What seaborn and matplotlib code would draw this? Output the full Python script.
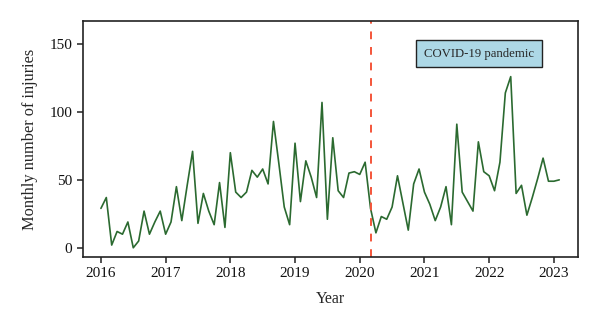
import numpy as np
import pandas as pd
import matplotlib
matplotlib.use("Agg")
import matplotlib.pyplot as plt
import seaborn as sns

# Monthly injury counts, January 2016 onwards
start_year = 2016
injuries = [
    29, 37, 2, 12, 10, 19, 0, 5, 27, 10, 19, 27,        # 2016
    10, 19, 45, 20, 46, 71, 18, 40, 27, 17, 48, 15,     # 2017
    70, 41, 37, 41, 57, 52, 58, 47, 93, 62, 30, 17,     # 2018
    77, 34, 64, 52, 37, 107, 21, 81, 42, 37, 55, 56,    # 2019
    54, 63, 29, 11, 23, 21, 30, 53, 33, 13, 47, 58,     # 2020
    41, 32, 20, 30, 45, 17, 91, 41, 34, 27, 78, 56,     # 2021
    53, 42, 63, 114, 126, 40, 46, 24, 37, 51, 66, 49,   # 2022
    49, 50,                                             # 2023
]
pandemic_start = 2020 + 2 / 12   # March 2020
pandemic_label = "COVID-19 pandemic"
x_ticks = [2016, 2017, 2018, 2019, 2020, 2021, 2022, 2023]
y_ticks = [0, 50, 100, 150]

df = pd.DataFrame({
    "year": start_year + np.arange(len(injuries)) / 12,
    "injuries": injuries,
})

sns.set_style("ticks")
plt.rcParams["font.family"] = ["Liberation Serif", "DejaVu Serif"]

fig = plt.figure(figsize=(6.0, 3.27), dpi=100)
ax = fig.add_axes([0.138, 0.214, 0.825, 0.722])

sns.lineplot(data=df, x="year", y="injuries", ax=ax,
             color="#2b6a30", linewidth=1.2)

ax.axvline(pandemic_start, color="#f4553a", linewidth=1.4,
           linestyle=(0, (4, 4)))

ax.text(0.80, 0.862, pandemic_label, transform=ax.transAxes,
        ha="center", va="center", fontsize=9.2,
        bbox=dict(boxstyle="square,pad=0.62", facecolor="#add8e6",
                  edgecolor="#222222", linewidth=1.0))

ax.set_xlim(2015.72, 2023.37)
ax.set_ylim(-6.8, 167)
ax.set_xticks(x_ticks)
ax.set_yticks(y_ticks)
ax.tick_params(axis="both", labelsize=11, length=4, width=1.1,
               color="#222222", labelcolor="#111111")

for side in ["left", "right", "top", "bottom"]:
    ax.spines[side].set_visible(True)
    ax.spines[side].set_linewidth(1.2)
    ax.spines[side].set_color("#222222")

ax.set_xlabel("Year", fontsize=11.5, labelpad=7.5)
ax.set_ylabel("Monthly number of injuries", fontsize=11.8, labelpad=8)

fig.savefig("out.png", dpi=100)
